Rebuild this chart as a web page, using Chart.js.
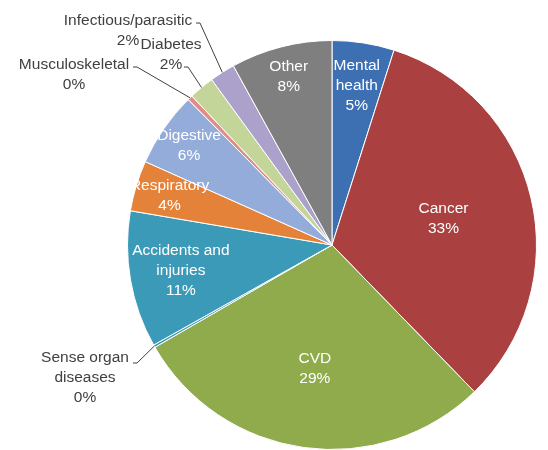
<!DOCTYPE html>
<html>
<head>
<meta charset="utf-8">
<script src="https://cdn.jsdelivr.net/npm/chart.js@4.4.1/dist/chart.umd.min.js"></script>
<style>
  body { margin: 0; background: #fff; }
  #wrap { width: 548px; height: 450px; position: relative; }
</style>
</head>
<body>
<div id="wrap"><canvas id="causeChart"></canvas></div>
<script>
// Datos (porcentaje por causa)
const categories = ['Mental health', 'Cancer', 'CVD', 'Sense organ diseases', 'Accidents and injuries',
  'Respiratory', 'Digestive', 'Musculoskeletal', 'Diabetes', 'Infectious/parasitic', 'Other'];
const shares = [4.9, 32.8, 28.9, 0.2, 10.8, 4, 5.9, 0.4, 2, 2, 8];

// Como se parte cada etiqueta en lineas
const labelLines = [['Mental', 'health'], ['Cancer'], ['CVD'], ['Sense organ', 'diseases'], ['Accidents and', 'injuries'],
  ['Respiratory'], ['Digestive'], ['Musculoskeletal'], ['Diabetes'], ['Infectious/parasitic'], ['Other']];

const sliceColors = ['#3d6fb3', '#aa4140', '#8fab4c', '#3b9ab8', '#3b9ab8',
  '#e5823a', '#93acd9', '#df8c8a', '#c3d598', '#aca1ca', '#7f7f7f'];

// Donde va cada etiqueta: dentro (fraccion del radio) o fuera (desplazamiento desde el centro)
const labelPlace = [
  { r: 0.79 },
  { r: 0.56 },
  { r: 0.61 },
  { dx: -247, dy: 113, lx: -199, ly: 118 },
  { r: 0.75 },
  { r: 0.83 },
  { r: 0.85 },
  { dx: -258, dy: -180, lx: -199, ly: -178 },
  { dx: -161, dy: -200, lx: -148, ly: -178 },
  { dx: -204, dy: -224, lx: -136, ly: -222 }, 
  { r: 0.85 }
];

const sliceLabels = {
  id: 'sliceLabels',
  afterDatasetsDraw(chart) {
    const ctx = chart.ctx;
    const meta = chart.getDatasetMeta(0);
    const values = chart.data.datasets[0].data;
    const total = values.reduce((a, b) => a + b, 0);
    const lh = 20;
    ctx.save();
    ctx.font = '15.5px "Liberation Sans", Arial, sans-serif';
    ctx.textAlign = 'center';
    ctx.textBaseline = 'middle';
    meta.data.forEach((arc, i) => {
      const lines = labelLines[i].concat(Math.round(values[i] / total * 100) + '%');
      const mid = (arc.startAngle + arc.endAngle) / 2;
      const p = labelPlace[i];
      if (p.r) {
        const r = arc.outerRadius * p.r;
        const x = arc.x + Math.cos(mid) * r;
        const y = arc.y + Math.sin(mid) * r - (lines.length - 1) * lh / 2;
        ctx.fillStyle = '#ffffff';
        lines.forEach((t, k) => ctx.fillText(t, x, y + k * lh));
      } else {
        ctx.fillStyle = '#404040';
        lines.forEach((t, k) => ctx.fillText(t, arc.x + p.dx, arc.y + p.dy + k * lh));
        // linea guia hasta el borde de la rebanada
        const ex = arc.x + Math.cos(mid) * arc.outerRadius;
        const ey = arc.y + Math.sin(mid) * arc.outerRadius;
        ctx.strokeStyle = '#404040';
        ctx.lineWidth = 1;
        ctx.beginPath();
        ctx.moveTo(arc.x + p.lx, arc.y + p.ly);
        ctx.lineTo(arc.x + p.lx + 4, arc.y + p.ly);
        ctx.lineTo(ex, ey);
        ctx.stroke();
      }
    });
    ctx.restore();
  }
};

new Chart(document.getElementById('causeChart'), {
  type: 'pie',
  data: {
    labels: categories,
    datasets: [{
      data: shares,
      backgroundColor: sliceColors,
      borderColor: '#ffffff',
      borderWidth: 1
    }]
  },
  options: {
    responsive: true,
    maintainAspectRatio: false,
    animation: false,
    layout: { padding: { left: 127, right: 11, top: 40, bottom: 0 } },
    plugins: {
      legend: { display: false },
      tooltip: { enabled: false }
    }
  },
  plugins: [sliceLabels]
});
</script>
</body>
</html>
